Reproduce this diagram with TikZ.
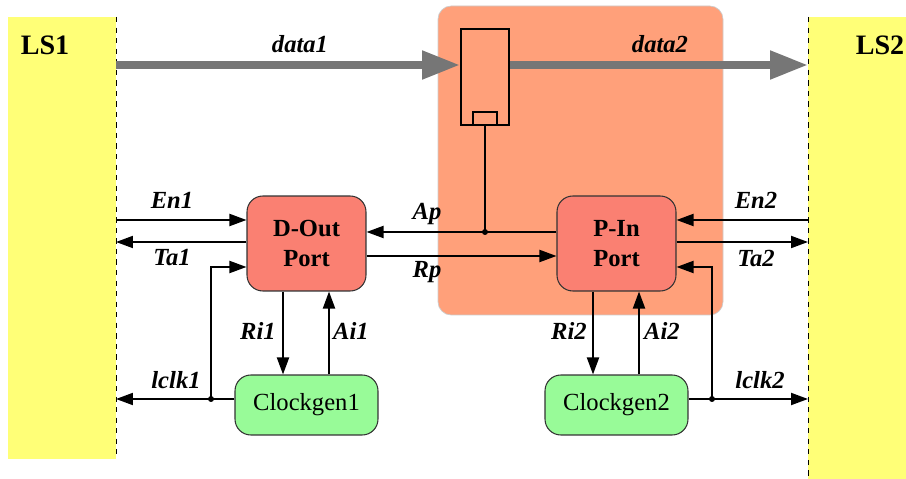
\documentclass[tikz,border=0pt]{standalone}
\usepackage{fontspec}
\setmainfont{Liberation Serif}
\usetikzlibrary{arrows.meta,calc}

\definecolor{lsyellow}{RGB}{255,255,119}
\definecolor{boxorange}{RGB}{255,160,122}
\definecolor{portred}{RGB}{250,128,114}
\definecolor{gengreen}{RGB}{152,251,152}
\definecolor{busgray}{RGB}{118,118,118}

\tikzset{
	sig/.style={line width=1.1pt, -{Triangle[length=3.4mm,width=2.4mm]}},
	wire/.style={line width=1.1pt},
	bus/.style={line width=4.5pt, draw=busgray, -{Triangle[length=7.6mm,width=5.4mm,fill=busgray]}},
	port/.style={draw=black!80, fill=portred, rounded corners=9pt, line width=0.6pt,
		minimum width=2.38cm, minimum height=1.9cm, align=center,
		font=\fontsize{14}{17}\selectfont\bfseries},
	gen/.style={draw=black!80, fill=gengreen, rounded corners=9pt, line width=0.6pt,
		minimum width=2.86cm, minimum height=1.2cm, font=\fontsize{14}{17}\selectfont},
	lbl/.style={font=\fontsize{14}{17}\selectfont\bfseries\itshape, inner sep=0pt},
	lslbl/.style={font=\fontsize{16}{19}\selectfont\bfseries, inner sep=0pt},
	dot/.style={circle, fill=black, inner sep=0pt, minimum size=1.2mm},
}

\begin{document}
\begin{tikzpicture}[x=0.02cm, y=-0.02cm]
	%%%%% START %%%%%
	\useasboundingbox (0,0) rectangle (906,479);
	
	% the two sides
	\fill[lsyellow] (8,17) rectangle (116,459);
	\draw[dashed, thin] (116,17) -- (116,459);
	\fill[lsyellow] (808,17) rectangle (906,479);
	\draw[dashed, thin] (808,17) -- (808,479);
	\node[lslbl] (ls1) at (45,45) {LS1};
	\node[lslbl] (ls2) at (880,45) {LS2};
	
	% buffer block
	\draw[draw=black!20, fill=boxorange, rounded corners=7.5pt] (438,6) rectangle (723,315);
	\node[draw, line width=1.1pt, minimum width=0.96cm, minimum height=1.92cm, inner sep=0pt] (reg) at (485,77) {};
	\node[draw, line width=1.1pt, minimum width=0.48cm, minimum height=0.26cm, inner sep=0pt] (regsub) at (485,118.5) {};
	
	% data path
	\coordinate (d1) at (116,65);
	\coordinate (d2) at (808,65);
	\draw[bus] (d1) -- (reg.west |- d1);
	\draw[bus] (reg.east |- d2) -- (d2);
	\node[lbl] (data1) at (300,44) {data1};
	\node[lbl] (data2) at (660,44) {data2};
	
	% ports and clock generators
	\node[port] (dout) at (306.5,243.5) {D-Out\\Port};
	\node[port] (pin) at (616.5,243.5) {P-In\\Port};
	\node[gen] (cg1) at (306.5,405) {Clockgen1};
	\node[gen] (cg2) at (616.5,405) {Clockgen2};
	
	% left side handshake
	\coordinate (en1) at (116,220);
	\coordinate (ta1) at (116,242);
	\coordinate (lk1) at (116,399);
	\coordinate (lk1dot) at (211,399);
	\coordinate (lk1up) at (211,267);
	\draw[sig] (en1) -- (en1 -| dout.west);
	\draw[sig] (ta1 -| dout.west) -- (ta1);
	\draw[sig] (lk1 -| cg1.west) -- (lk1);
	\draw[sig] (lk1dot) -- (lk1up) -- (lk1up -| dout.west);
	\node[dot] (dot1) at (lk1dot) {};
	\node[lbl] (en1l) at (172,200) {En1};
	\node[lbl] (ta1l) at (172,258) {Ta1};
	\node[lbl] (lk1l) at (176,380) {lclk1};
	
	% right side handshake
	\coordinate (en2) at (808,220);
	\coordinate (ta2) at (808,242);
	\coordinate (lk2) at (808,399);
	\coordinate (lk2dot) at (712,399);
	\coordinate (lk2up) at (712,267);
	\draw[sig] (en2) -- (en2 -| pin.east);
	\draw[sig] (ta2 -| pin.east) -- (ta2);
	\draw[sig] (lk2 -| cg2.east) -- (lk2);
	\draw[sig] (lk2dot) -- (lk2up) -- (lk2up -| pin.east);
	\node[dot] (dot2) at (lk2dot) {};
	\node[lbl] (en2l) at (756,200) {En2};
	\node[lbl] (ta2l) at (756,258) {Ta2};
	\node[lbl] (lk2l) at (760,380) {lclk2};
	
	% port to port
	\coordinate (ap) at (485,232);
	\coordinate (rp) at (470,256);
	\draw[sig] (ap -| pin.west) -- (ap -| dout.east);
	\draw[wire] (regsub.south) -- (ap);
	\node[dot] (dot3) at (ap) {};
	\draw[sig] (rp -| dout.east) -- (rp -| pin.west);
	\node[lbl] (apl) at (427,214) {Ap};
	\node[lbl] (rpl) at (427,272) {Rp};
	
	% requests and acknowledges
	\coordinate (ri1) at (283,330);
	\coordinate (ai1) at (329,330);
	\coordinate (ri2) at (593,330);
	\coordinate (ai2) at (639,330);
	\draw[sig] (ri1 |- dout.south) -- (ri1 |- cg1.north);
	\draw[sig] (ai1 |- cg1.north) -- (ai1 |- dout.south);
	\draw[sig] (ri2 |- pin.south) -- (ri2 |- cg2.north);
	\draw[sig] (ai2 |- cg2.north) -- (ai2 |- pin.south);
	\node[lbl] (ri1l) at (258,331) {Ri1};
	\node[lbl] (ai1l) at (351,331) {Ai1};
	\node[lbl] (ri2l) at (569,331) {Ri2};
	\node[lbl] (ai2l) at (662,331) {Ai2};
	%%%%% END %%%%%
\end{tikzpicture}
\end{document}
